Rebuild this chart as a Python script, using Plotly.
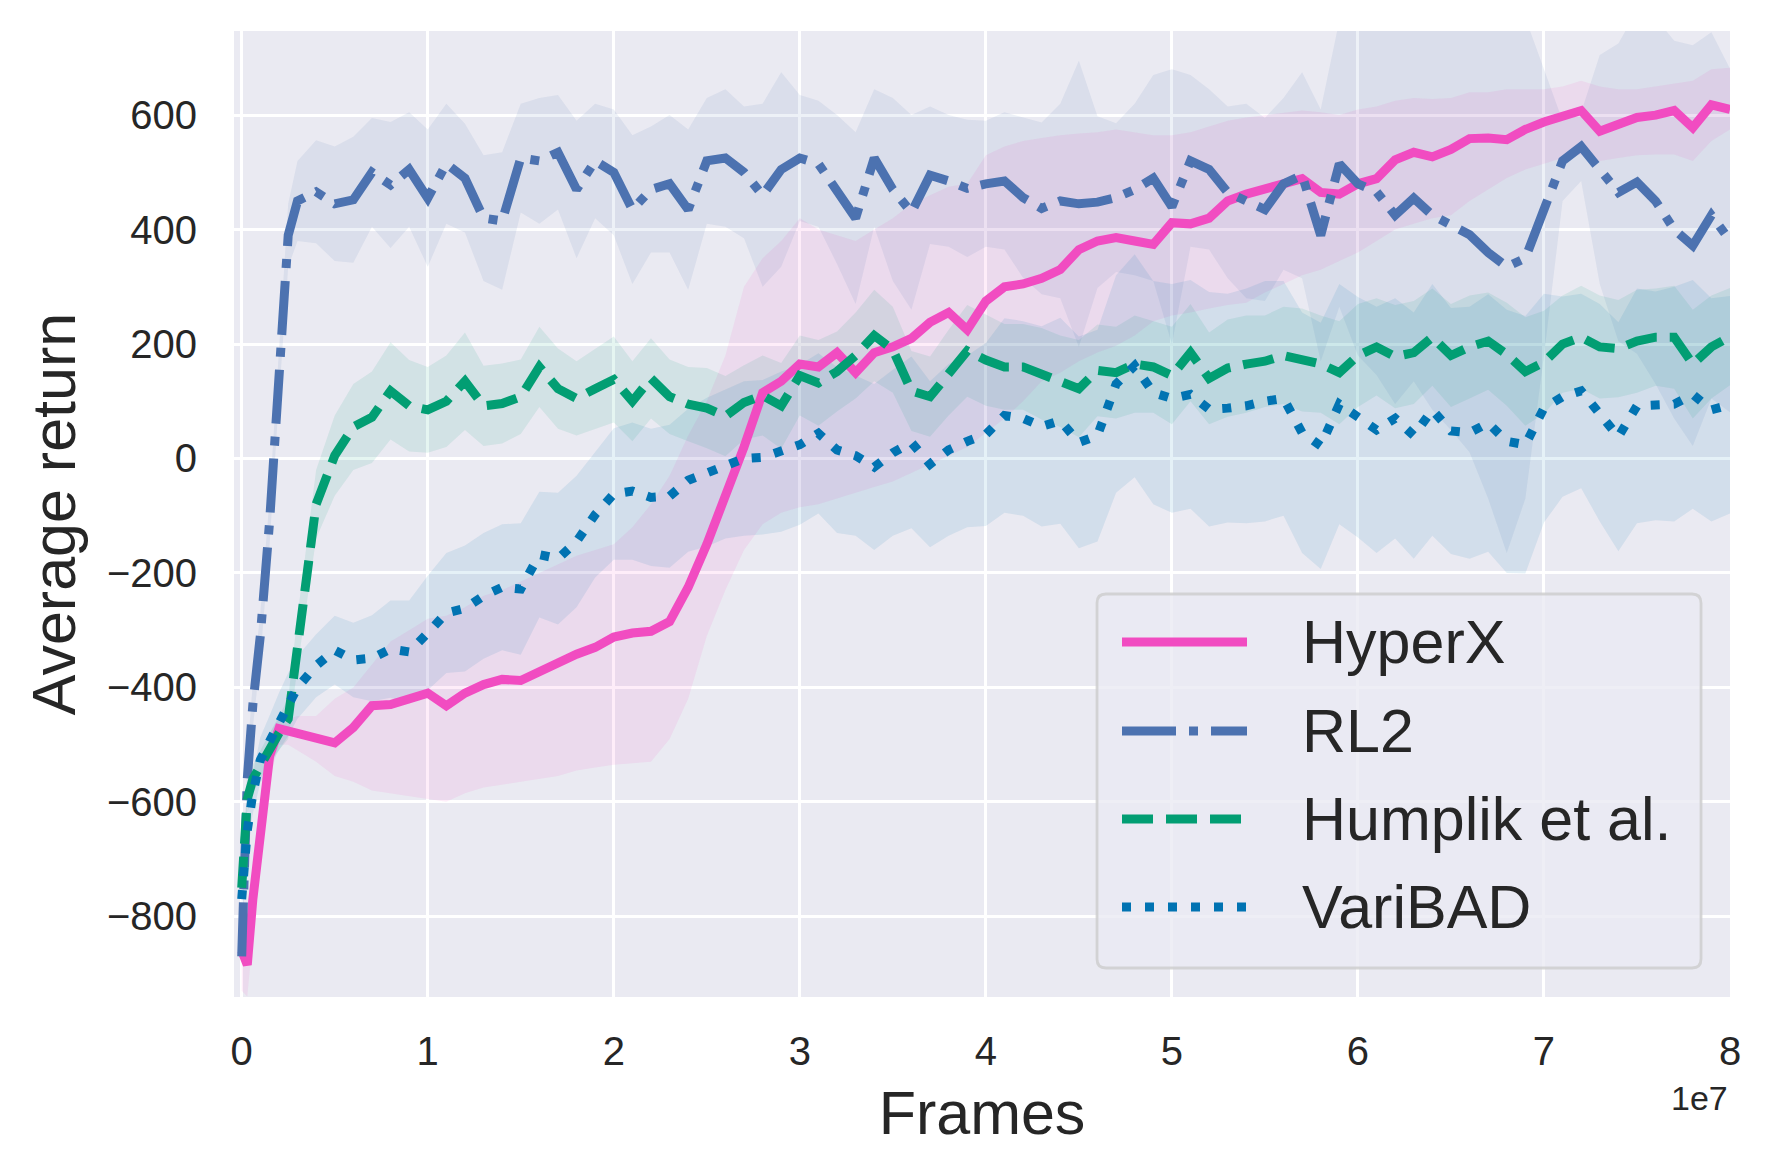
import plotly.graph_objects as go

# frames in millions
frames_m = [0, 0.3, 0.6, 1, 1.5, 2, 2.5, 3] + list(range(4, 81))

methods = ["HyperX", "RL2", "Humplik et al.", "VariBAD"]

hyperx_mean = [-860, -885, -770, -660, -520, -472, -476, -478,
               -490, -497, -470, -432, -430, -420, -410, -432, -410, -395,
               -386, -388, -372, -357, -342, -330, -312, -305, -302, -285,
               -225, -150, -68, 20, 115, 135, 165, 160, 185, 150,
               185, 195, 210, 238, 255, 225, 275, 300, 305, 315,
               330, 365, 380, 386, 380, 374, 412, 410, 420, 450,
               462, 472, 478, 489, 465, 462, 480, 489, 522, 535,
               527, 540, 559, 560, 557, 575, 588, 600, 608, 572,
               586, 596, 600, 608, 578, 618, 610]
hyperx_lo = [-930, -940, -840, -700, -560, -500, -500, -510,
             -530, -555, -565, -580, -585, -590, -595, -600, -585, -575,
             -570, -565, -560, -555, -545, -540, -535, -533, -530, -490,
             -420, -310, -230, -160, -115, -95, -85, -80, -70, -60,
             -50, -40, -25, -10, 5, 20, 45, 70, 100, 135,
             150, 170, 185, 197, 215, 240, 250, 255, 262, 268,
             272, 290, 305, 320, 330, 345, 360, 380, 400, 410,
             420, 425, 450, 470, 490, 505, 515, 525, 531, 520,
             525, 530, 531, 531, 520, 555, 575]
hyperx_hi = [-830, -840, -700, -610, -480, -455, -455, -450,
             -450, -420, -400, -360, -320, -300, -280, -275, -260, -240,
             -230, -215, -200, -185, -170, -160, -150, -120, -80, -30,
             40, 100, 180, 300, 350, 380, 420, 400, 390, 380,
             400, 420, 445, 460, 475, 480, 530, 545, 555, 560,
             565, 568, 570, 575, 570, 565, 565, 570, 580, 590,
             596, 600, 605, 608, 605, 600, 610, 615, 625, 630,
             628, 630, 640, 640, 645, 645, 645, 650, 660, 650,
             645, 645, 650, 655, 660, 680, 683]

rl2_mean = [-870, -560, -430, -310, -110, 150, 390, 450,
            466, 445, 452, 500, 478, 505, 455, 515, 490, 420,
            415, 525, 520, 535, 470, 520, 500, 435, 470, 480,
            435, 520, 525, 500, 460, 505, 525, 515, 470, 420,
            525, 470, 430, 495, 485, 472, 480, 485, 456, 437,
            450, 445, 448, 456, 470, 490, 440, 520, 505, 465,
            450, 435, 480, 495, 390, 515, 480, 466, 425, 455,
            425, 410, 391, 360, 335, 350, 430, 520, 545, 505,
            465, 483, 450, 400, 372, 425, 381]
rl2_std = [15, 40, 40, 40, 40, 45, 55, 70,
           90, 100, 110, 95, 110, 100, 120, 105, 95, 110,
           120, 95, 110, 100, 120, 100, 110, 130, 110, 120,
           140, 110, 120, 115, 160, 170, 110, 110, 130, 150,
           120, 160, 170, 120, 115, 120, 110, 120, 140, 150,
           170, 250, 150, 130, 150, 180, 240, 150, 140, 150,
           170, 160, 150, 180, 220, 250, 300, 320, 330, 320,
           340, 360, 380, 430, 500, 420, 250, 70, 60, 200,
           260, 300, 320, 330, 350, 320, 300]

humplik_mean = [-750, -595, -560, -535, -505, -480, -455, -320,
                -80, 5, 55, 72, 118, 92, 85, 100, 135, 92,
                96, 108, 160, 122, 105, 122, 138, 100, 140, 108,
                95, 88, 74, 98, 110, 92, 145, 132, 152, 180,
                215, 190, 118, 108, 150, 188, 172, 160, 160, 148,
                135, 122, 154, 150, 165, 160, 145, 185, 140, 158,
                165, 170, 180, 172, 165, 150, 180, 195, 178, 185,
                212, 180, 195, 205, 182, 152, 168, 200, 212, 195,
                192, 205, 212, 212, 165, 195, 213]
humplik_std = [20, 25, 25, 25, 25, 30, 35, 45,
               60, 70, 75, 80, 85, 80, 75, 80, 85, 70,
               70, 65, 70, 70, 65, 70, 75, 70, 70, 65,
               65, 70, 70, 65, 70, 75, 70, 75, 70, 75,
               80, 75, 70, 70, 75, 80, 80, 75, 75, 80,
               80, 85, 80, 80, 85, 80, 85, 85, 80, 85,
               85, 80, 85, 90, 85, 90, 90, 85, 90, 90,
               85, 90, 90, 85, 90, 95, 90, 85, 90, 90,
               85, 90, 85, 90, 95, 90, 85]

varibad_mean = [-770, -650, -585, -527, -494, -460, -430, -400,
                -362, -335, -352, -349, -333, -338, -305, -270, -262, -240,
                -225, -228, -168, -175, -145, -98, -62, -57, -68, -66,
                -38, -24, -10, 0, 2, 12, 24, 44, 15, 5,
                -15, 10, 28, -10, 15, 30, 42, 75, 70, 56,
                66, 28, 40, 130, 162, 115, 105, 112, 86, 88,
                92, 100, 105, 45, 22, 95, 72, 50, 70, 40,
                85, 48, 45, 62, 30, 24, 88, 108, 118, 80,
                38, 92, 92, 95, 112, 85, 94]
varibad_std = [20, 30, 35, 40, 45, 50, 55, 55,
               55, 60, 65, 75, 85, 90, 100, 105, 110, 110,
               110, 115, 110, 115, 115, 110, 115, 120, 120, 125,
               125, 130, 130, 135, 135, 140, 140, 140, 145, 140,
               145, 145, 150, 145, 150, 150, 160, 170, 170, 175,
               180, 185, 185, 190, 195, 195, 200, 200, 205, 200,
               205, 210, 205, 210, 215, 210, 210, 215, 210, 215,
               220, 215, 220, 225, 230, 225, 200, 175, 170, 190,
               200, 205, 200, 205, 200, 195, 190]

x_ticks = [0, 1, 2, 3, 4, 5, 6, 7, 8]
y_ticks = [-800, -600, -400, -200, 0, 200, 400, 600]

colors = ["#f14cc1", "#4c72b0", "#029e73", "#0173b2"]
dashes = ["solid", "54px,13px,9px,13px", "31px,13px", "9px,14px"]
LW = 9

# page body has an 8px margin, so the figure is drawn 8px in from the corner
OFF = 8
W, H = 1773 - 2 * OFF, 1175 - 2 * OFF
L, R, T, B = 226, 35, 23, 170
PW, PH = W - L - R, H - T - B
FONT = "Liberation Sans, Arial, sans-serif"
TXT = "#262626"


def rgba(hexcol, a):
    h = hexcol.lstrip("#")
    return "rgba(%d,%d,%d,%s)" % (int(h[0:2], 16), int(h[2:4], 16), int(h[4:6], 16), a)


def px_x(p):
    return (p - OFF - L) / PW


def px_y(p):
    return (T + PH - (p - OFF)) / PH


x = [f * 1e6 for f in frames_m]

bands = [
    (hyperx_lo, hyperx_hi),
    ([m - s for m, s in zip(rl2_mean, rl2_std)], [m + s for m, s in zip(rl2_mean, rl2_std)]),
    ([m - s for m, s in zip(humplik_mean, humplik_std)], [m + s for m, s in zip(humplik_mean, humplik_std)]),
    ([m - s for m, s in zip(varibad_mean, varibad_std)], [m + s for m, s in zip(varibad_mean, varibad_std)]),
]
means = [hyperx_mean, rl2_mean, humplik_mean, varibad_mean]

fig = go.Figure()

for (lo, hi), col in zip(bands, colors):
    fig.add_trace(go.Scatter(x=x + x[::-1], y=hi + lo[::-1], fill="toself",
                             fillcolor=rgba(col, 0.1), line=dict(width=0),
                             hoverinfo="skip", showlegend=False))

for name, m, col, d in zip(methods, means, colors, dashes):
    fig.add_trace(go.Scatter(x=x, y=m, mode="lines", name=name, showlegend=False,
                             line=dict(color=col, width=LW, dash=d)))

fig.update_layout(
    width=W, height=H,
    margin=dict(l=L, r=R, t=T, b=B, pad=0),
    paper_bgcolor="white", plot_bgcolor="#eaeaf2",
    font=dict(family=FONT, color=TXT, size=40),
    showlegend=False,
)
fig.update_xaxes(
    range=[-0.0414e7, 8e7], tickvals=[t * 1e7 for t in x_ticks], ticktext=[str(t) for t in x_ticks],
    showgrid=True, gridcolor="white", gridwidth=2.8, zeroline=False, showline=False,
    ticks="", ticklabelstandoff=27, tickfont=dict(size=40, color=TXT),
    title=dict(text="Frames", font=dict(size=61, color=TXT), standoff=19),
)
fig.update_yaxes(
    range=[-941, 747], tickvals=y_ticks, ticktext=[("\u2212%d" % -t) if t < 0 else str(t) for t in y_ticks],
    showgrid=True, gridcolor="white", gridwidth=2.8, zeroline=False, showline=False,
    ticks="", ticklabelstandoff=36, tickfont=dict(size=40, color=TXT),
    title=dict(text="Average return", font=dict(size=61, color=TXT), standoff=11),
)

# offset text for the x axis
fig.add_annotation(text="1e7", xref="paper", yref="paper", x=1, y=px_y(1098),
                   xanchor="right", yanchor="middle", showarrow=False,
                   font=dict(size=34, color=TXT, family=FONT))

# legend drawn by hand to match the matplotlib look
bx0, bx1, by0, by1 = px_x(1097), px_x(1701), px_y(968), px_y(594)
rx, ry = 9 / PW, 9 / PH
box = ("M %f,%f L %f,%f Q %f,%f %f,%f L %f,%f Q %f,%f %f,%f L %f,%f Q %f,%f %f,%f L %f,%f Q %f,%f %f,%f Z" %
       (bx0 + rx, by1, bx1 - rx, by1, bx1, by1, bx1, by1 - ry, bx1, by0 + ry, bx1, by0, bx1 - rx, by0,
        bx0 + rx, by0, bx0, by0, bx0, by0 + ry, bx0, by1 - ry, bx0, by1, bx0 + rx, by1))
fig.add_shape(type="path", path=box, xref="paper", yref="paper", layer="above",
              fillcolor="rgba(234,234,242,0.8)", line=dict(color="rgba(204,204,204,0.8)", width=2.8))

rows_y = [642, 731, 819, 907]
for name, col, d, ry_px in zip(methods, colors, dashes, rows_y):
    fig.add_shape(type="line", xref="paper", yref="paper", layer="above",
                  x0=px_x(1122), x1=px_x(1247), y0=px_y(ry_px), y1=px_y(ry_px),
                  line=dict(color=col, width=LW, dash=d))
    fig.add_annotation(text=name, xref="paper", yref="paper", x=px_x(1300), y=px_y(ry_px),
                       xanchor="left", yanchor="middle", showarrow=False,
                       font=dict(size=61, color=TXT, family=FONT))

fig.write_html("out.html")
